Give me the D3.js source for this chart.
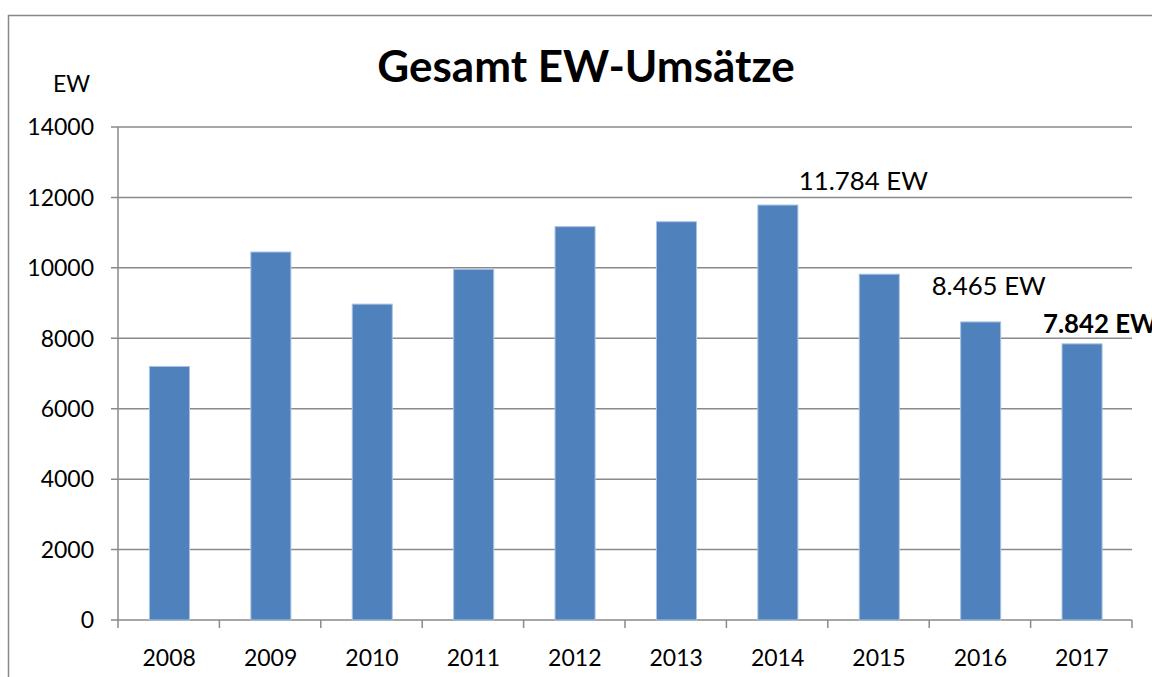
<!DOCTYPE html>
<html>
<head>
<meta charset="utf-8">
<script src="https://cdn.jsdelivr.net/npm/d3@7"></script>
<style>
  body { margin: 0; background: #fff; }
  svg { display: block; font-family: Lato, "Open Sans", sans-serif; }
</style>
</head>
<body>
<script>
var w = 1152;
var h = 677;

var years = ["2008", "2009", "2010", "2011", "2012", "2013", "2014", "2015", "2016", "2017"];
var values = [7200, 10450, 8970, 9960, 11170, 11310, 11784, 9820, 8465, 7842];
var yTicks = [0, 2000, 4000, 6000, 8000, 10000, 12000, 14000];
var labelYears = ["2014", "2016", "2017"];
var labelTexts = ["11.784 EW", "8.465 EW", "7.842 EW"];
var labelBold = [false, false, true];

// label placement relative to bar left / bar top
var labelDx = [41, -29, -19];
var labelDy = [-15, -27, -11];

var plotLeft = 118, plotRight = 1132, plotTop = 127, plotBottom = 620;

var xScale = d3.scaleBand()
    .domain(years)
    .range([plotLeft, plotRight])
    .padding(0);

var yScale = d3.scaleLinear()
    .domain([0, 14000])
    .range([plotBottom, plotTop]);

var barW = xScale.bandwidth() * 0.395;
var barOff = xScale.bandwidth() * 0.31;

var svg = d3.select("body")
    .append("svg")
    .attr("width", w)
    .attr("height", h);

// chart frame
svg.append("rect")
    .attr("x", 8.5)
    .attr("y", 15.5)
    .attr("width", 1200)
    .attr("height", 700)
    .attr("fill", "none")
    .attr("stroke", "#888")
    .attr("stroke-width", 1.5);

// gridlines + y axis labels
svg.selectAll("line.grid")
    .data(yTicks)
    .enter()
    .append("line")
    .attr("class", "grid")
    .attr("x1", plotLeft - 7)
    .attr("x2", plotRight)
    .attr("y1", function(d) { return yScale(d); })
    .attr("y2", function(d) { return yScale(d); })
    .attr("stroke", "#8a8a8a")
    .attr("stroke-width", 1.5);

svg.selectAll("text.ytick")
    .data(yTicks)
    .enter()
    .append("text")
    .attr("class", "ytick")
    .attr("x", 94)
    .attr("y", function(d) { return yScale(d); })
    .attr("dy", "0.36em")
    .attr("text-anchor", "end")
    .attr("font-size", 23)
    .attr("fill", "#000")
    .text(function(d) { return d; });

// y axis line
svg.append("line")
    .attr("x1", plotLeft)
    .attr("x2", plotLeft)
    .attr("y1", plotTop)
    .attr("y2", plotBottom)
    .attr("stroke", "#8a8a8a")
    .attr("stroke-width", 1.5);

// x ticks at category boundaries
var boundaries = years.map(function(d) { return xScale(d); }).concat([plotRight]);
svg.selectAll("line.xtick")
    .data(boundaries)
    .enter()
    .append("line")
    .attr("class", "xtick")
    .attr("x1", function(d) { return d; })
    .attr("x2", function(d) { return d; })
    .attr("y1", plotBottom)
    .attr("y2", plotBottom + 8)
    .attr("stroke", "#8a8a8a")
    .attr("stroke-width", 1.5);

// bars
svg.selectAll("rect.bar")
    .data(values)
    .enter()
    .append("rect")
    .attr("class", "bar")
    .attr("x", function(d, i) { return xScale(years[i]) + barOff; })
    .attr("y", function(d) { return yScale(d); })
    .attr("width", barW)
    .attr("height", function(d) { return plotBottom - yScale(d); })
    .attr("fill", "#4f81bd")
    .attr("stroke", "#a9c2e0")
    .attr("stroke-width", 1);

// x axis labels
svg.selectAll("text.xlabel")
    .data(years)
    .enter()
    .append("text")
    .attr("class", "xlabel")
    .attr("x", function(d) { return xScale(d) + xScale.bandwidth() * 0.505; })
    .attr("y", 666)
    .attr("text-anchor", "middle")
    .attr("font-size", 23)
    .attr("fill", "#000")
    .text(function(d) { return d; });

// value annotations
svg.selectAll("text.note")
    .data(labelTexts)
    .enter()
    .append("text")
    .attr("class", "note")
    .attr("x", function(d, i) { return xScale(labelYears[i]) + barOff + labelDx[i]; })
    .attr("y", function(d, i) {
        return yScale(values[years.indexOf(labelYears[i])]) + labelDy[i];
    })
    .attr("font-size", 25.8)
    .attr("font-weight", function(d, i) { return labelBold[i] ? "bold" : "normal"; })
    .attr("fill", "#000")
    .text(function(d) { return d; });

// unit label
svg.append("text")
    .attr("x", 90)
    .attr("y", 92)
    .attr("text-anchor", "end")
    .attr("font-size", 23)
    .text("EW");

// title
svg.append("text")
    .attr("x", 586)
    .attr("y", 82)
    .attr("text-anchor", "middle")
    .attr("font-size", 44)
    .attr("font-weight", "bold")
    .text("Gesamt EW-Umsätze");
</script>
</body>
</html>
